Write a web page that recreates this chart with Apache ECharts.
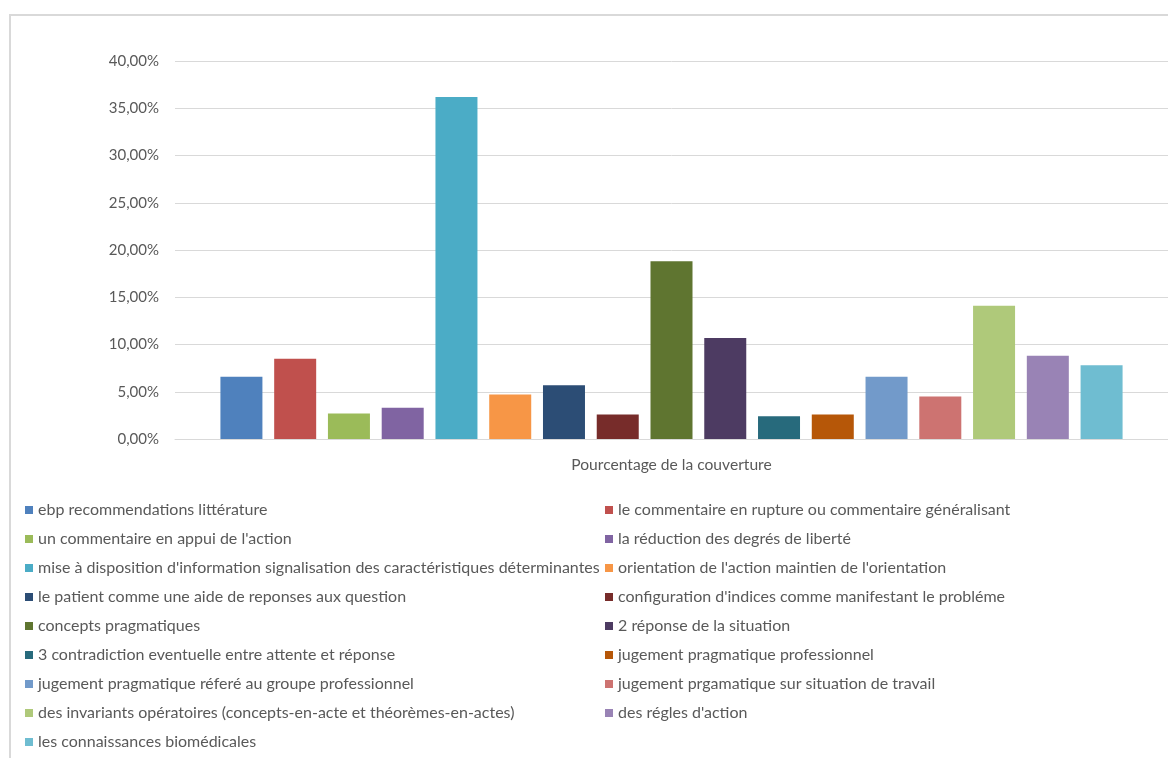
<!DOCTYPE html>
<html>
<head>
<meta charset="utf-8">
<script src="https://cdn.jsdelivr.net/npm/echarts@6/dist/echarts.min.js"></script>
<style>
  html, body { margin: 0; padding: 0; background: #fff; }
  #chart { width: 1168px; height: 758px; }
</style>
</head>
<body>
<div id="chart"></div>
<script>
const categories = ["Pourcentage de la couverture"];

const seriesNames = [
  "ebp recommendations littérature",
  "le commentaire en rupture ou commentaire généralisant",
  "un commentaire en appui de l'action",
  "la réduction des degrés de liberté",
  "mise à disposition d'information signalisation des caractéristiques déterminantes",
  "orientation de l'action maintien de l'orientation",
  "le patient comme une aide de reponses aux question",
  "configuration d'indices comme manifestant le probléme",
  "concepts pragmatiques",
  "2 réponse de la situation",
  "3 contradiction eventuelle entre attente et réponse",
  "jugement pragmatique professionnel",
  "jugement pragmatique réferé au groupe professionnel",
  "jugement prgamatique sur situation de travail",
  "des invariants opératoires (concepts-en-acte et théorèmes-en-actes)",
  "des régles d'action",
  "les connaissances biomédicales"
];

// percentages, one value per series
const seriesValues = [6.6, 8.5, 2.7, 3.3, 36.2, 4.7, 5.7, 2.6, 18.8, 10.7, 2.4, 2.6, 6.6, 4.5, 14.1, 8.8, 7.8];

const colors = [
  "#4F81BD", "#C0504D", "#9BBB59", "#8064A2", "#4BACC6", "#F79646",
  "#2C4D75", "#772C2A", "#5F7530", "#4D3B62", "#276A7C", "#B65708",
  "#729ACA", "#CD7371", "#AFC97A", "#9983B5", "#6FBDD1"
];

const yTicks = [0, 5, 10, 15, 20, 25, 30, 35, 40];

const chart = echarts.init(document.getElementById("chart"));
const font = "Lato";
const textColor = "#595959";

// legend is laid out in two columns, alternating items
const legendLeft = seriesNames.filter((_, i) => i % 2 === 0);
const legendRight = seriesNames.filter((_, i) => i % 2 === 1);

const legendBase = {
  orient: "vertical",
  top: 500,
  padding: 0,
  icon: "rect",
  itemWidth: 8,
  itemHeight: 8,
  itemGap: 9,
  selectedMode: false,
  textStyle: { color: textColor, fontFamily: font, fontSize: 16, lineHeight: 20 }
};

chart.setOption({
  animation: false,
  color: colors,
  legend: [
    Object.assign({}, legendBase, { left: 25, data: legendLeft }),
    Object.assign({}, legendBase, { left: 605, data: legendRight })
  ],
  grid: { left: 175, top: 61, width: 995, height: 378 },
  xAxis: {
    type: "category",
    data: categories,
    axisLine: { lineStyle: { color: "#D9D9D9", width: 1 } },
    axisTick: { show: false },
    axisLabel: { color: textColor, fontFamily: font, fontSize: 15.6, margin: 18 }
  },
  yAxis: {
    type: "value",
    min: yTicks[0],
    max: yTicks[yTicks.length - 1],
    interval: 5,
    axisLine: { show: false },
    axisTick: { show: false },
    axisLabel: {
      color: textColor,
      fontFamily: font,
      fontSize: 15,
      margin: 16,
      formatter: (v) => v.toFixed(2).replace(".", ",") + "%"
    },
    splitLine: { lineStyle: { color: "#D9D9D9", width: 1 } }
  },
  series: seriesNames.map((name, i) => ({
    name: name,
    type: "bar",
    data: [seriesValues[i]],
    barWidth: 42,
    barGap: "28%",
    itemStyle: { color: colors[i] }
  })),
  graphic: [
    {
      type: "rect",
      z: -1,
      shape: { x: 10, y: 15, width: 1200, height: 800 },
      style: { fill: null, stroke: "#D9D9D9", lineWidth: 2 }
    }
  ]
});
</script>
</body>
</html>
